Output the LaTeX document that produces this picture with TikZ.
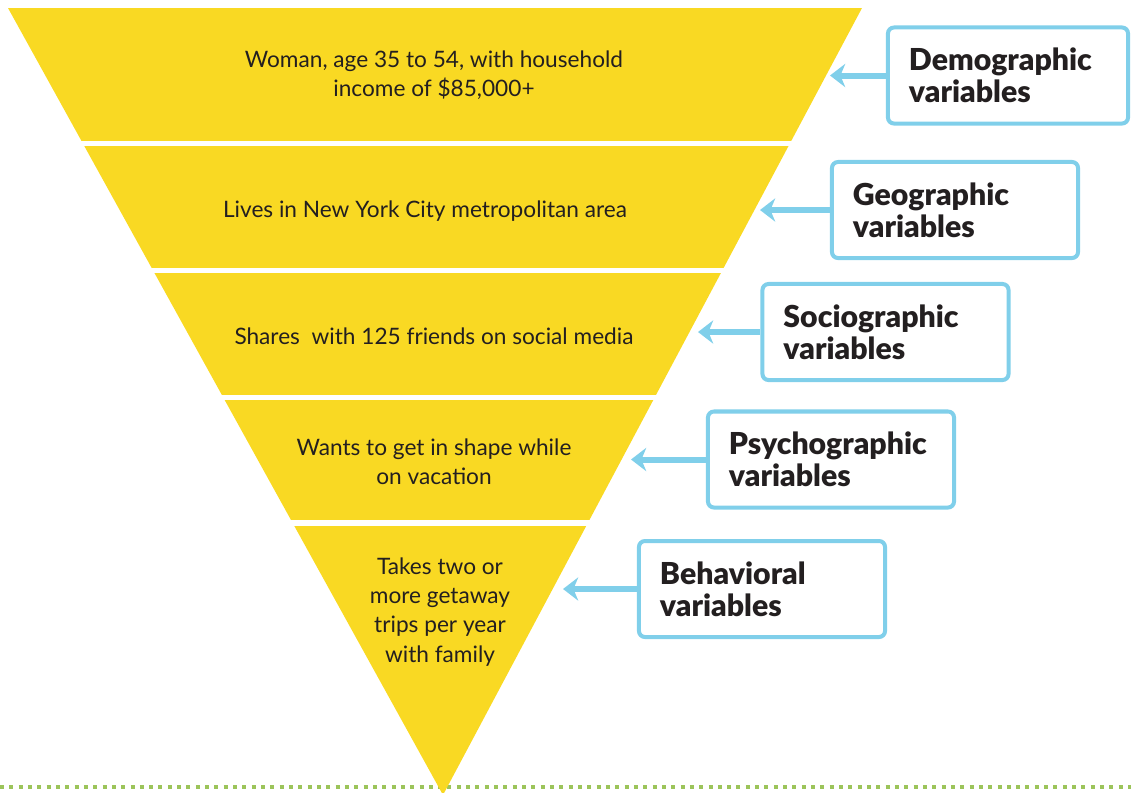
\documentclass[tikz,border=0pt]{standalone}
\usepackage{fontspec}
\setmainfont{Lato}
\newfontfamily\headfont{Lato Black}
\usetikzlibrary{arrows.meta}
\definecolor{funnelyellow}{HTML}{F9D923}
\definecolor{boxblue}{HTML}{80CFEA}
\definecolor{dotgreen}{HTML}{9CC45A}
\definecolor{textdark}{HTML}{231F20}
\begin{document}
\begin{tikzpicture}[x=0.025cm, y=-0.025cm,
	band/.style={font=\fontsize{16.1}{20.7}\selectfont, text=textdark, align=center},
	varbox/.style={draw=boxblue, line width=0.1cm, rounded corners=0.15cm, fill=white, minimum width=6.15cm, minimum height=2.4cm, inner xsep=0.525cm, text width=5.1cm, align=left, text=textdark, font=\headfont\fontsize{21.5}{22.7}\selectfont},
	pointer/.style={draw=boxblue, line width=0.15cm, -{Stealth[length=0.38cm, width=0.58cm, inset=0.12cm]}}]
	\useasboundingbox (0,0) rectangle (1131,792);
	% dotted ground line
	\draw[dotgreen, line width=0.1cm, dash pattern=on 0.1cm off 0.133cm] (0,787) -- (1131,787);
	% funnel
	\fill[funnelyellow] (8,8) -- (862,8) -- (443,795) -- cycle;
	\foreach \y in {143.5,270.5,397.5,523}
		\draw[white, line width=0.13cm] (0,\y) -- (880,\y);
	\node[band] (t1) at (434,75) {Woman, age 35 to 54, with household\\income of \$85,000+};
	\node[band] (t2) at (425,211) {Lives in New York City metropolitan area};
	\node[band] (t3) at (434,336) {Shares\ \ with 125 friends on social media};
	\node[band] (t4) at (434,461.5) {Wants to get in shape while\\on vacation};
	\node[band] (t5) at (440,612) {Takes two or\\more getaway\\trips per year\\with family};
	% variable boxes
	\node[varbox, minimum width=6cm, text width=4.95cm] (b1) at (1008,75.5) {Demographic\\variables};
	\node[varbox] (b2) at (955,210) {Geographic\\variables};
	\node[varbox] (b3) at (885.5,332) {Sociographic\\variables};
	\node[varbox] (b4) at (831,459.5) {Psychographic\\variables};
	\node[varbox] (b5) at (762,589) {Behavioral\\variables};
	% arrows
	\coordinate (a1) at (830,75.5);
	\coordinate (a2) at (760,210);
	\coordinate (a3) at (698,332);
	\coordinate (a4) at (631,459.5);
	\coordinate (a5) at (563,589);
	\foreach \i in {1,...,5}
		\draw[pointer] (b\i.west) -- (a\i);
\end{tikzpicture}
\end{document}
